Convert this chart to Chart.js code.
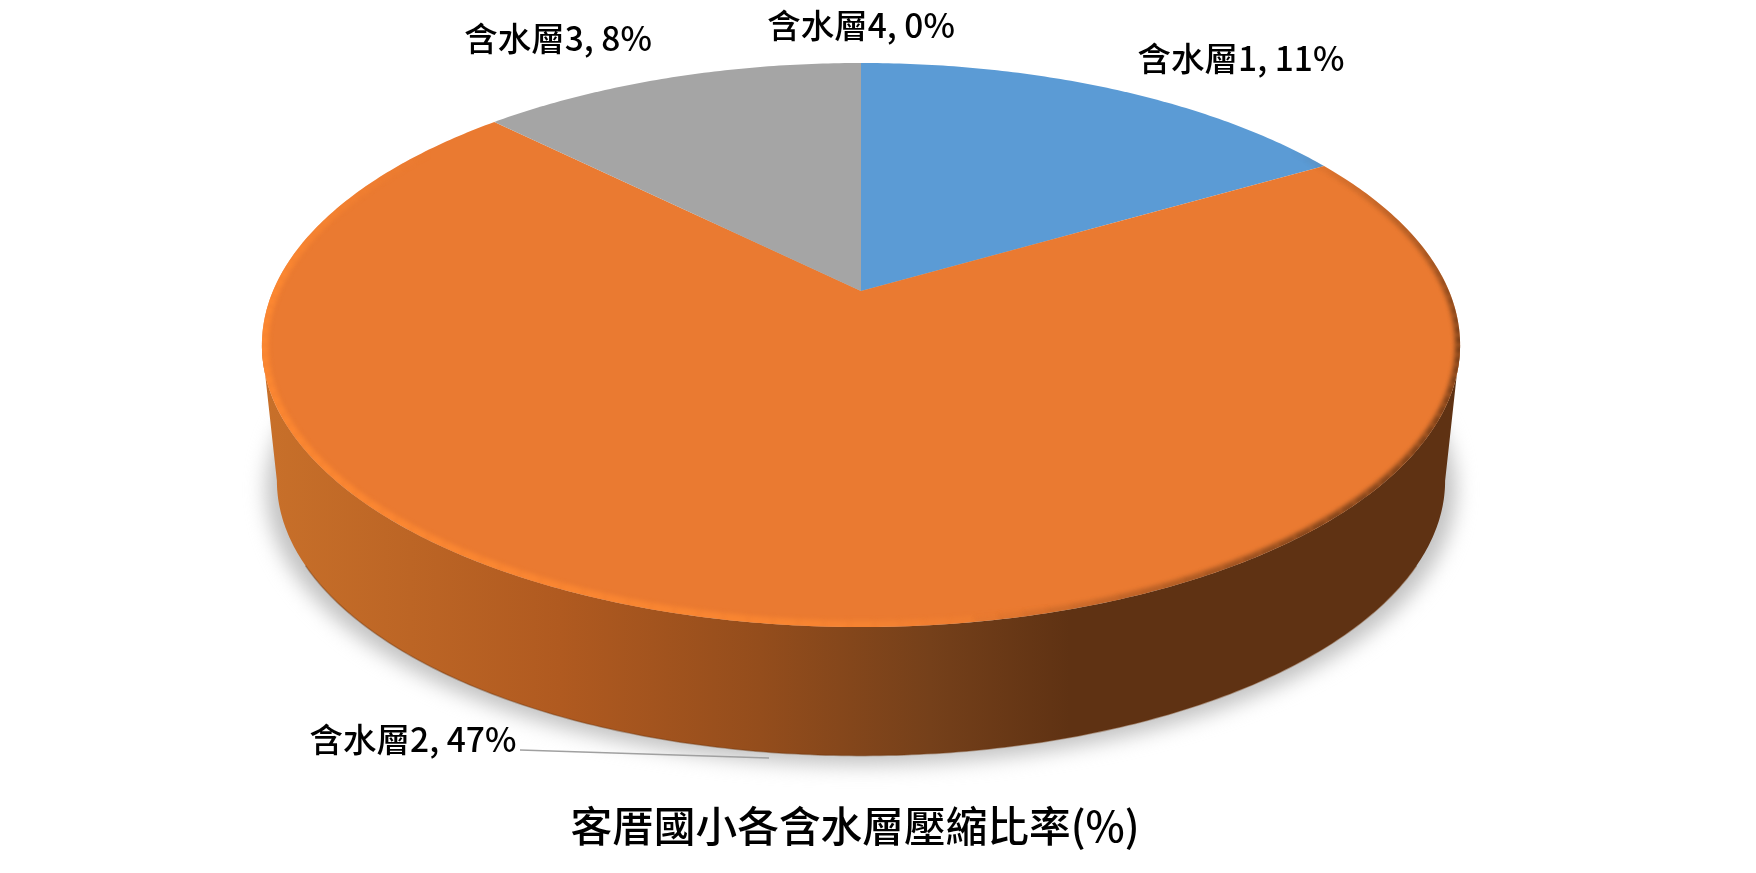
<!DOCTYPE html>
<html>
<head>
<meta charset="utf-8">
<title>客厝國小各含水層壓縮比率(%)</title>
<script src="https://cdn.jsdelivr.net/npm/chart.js@4"></script>
<style>
  html, body { margin: 0; padding: 0; background: #fff; }
  canvas { display: block; }
</style>
</head>
<body>
<canvas id="myChart" width="1756" height="873"></canvas>
<script>
const categories = ["含水層1", "含水層2", "含水層3", "含水層4"];
const seriesValues = [11, 47, 8.3, 0];
const sliceColors = ["#5B9BD5", "#EA7A31", "#A5A5A5", "#FFC000"];
const chartTitle = "客厝國小各含水層壓縮比率(%)";

// where each data label sits (center x, center y)
const labelSpots = [[1241, 58], [413, 739], [558, 38], [861, 25]];
const leaderLine = [[520, 750], [769, 758]];

const labelFont = '500 33.5px "Noto Sans CJK TC"';

// perspective of the disc: unit circle -> screen
const view = { cx: 861, cy: 291, a: 588, b: 271.7, k: -0.1915 };
const wall = { scale: 0.975, drop: 137 };

// rim shading, angle in degrees -> alpha
const rimLight = [[75, 0], [95, 0.7], [180, 0.9], [215, 0]];
const rimDark = [[-35, 0], [10, 0.8], [50, 0.7], [82, 0]];

function topPoint(t) {
  const u = Math.cos(t), v = Math.sin(t), d = 1 + view.k * v;
  return [view.cx + view.a * u / d, view.cy + view.b * v / d];
}

function bottomPoint(t) {
  const p = topPoint(t);
  return [view.cx + (p[0] - view.cx) * wall.scale, view.cy + (p[1] - view.cy) * wall.scale + wall.drop];
}

function arcSteps(from, to) {
  const n = Math.max(2, Math.ceil(Math.abs(to - from) * 90));
  const out = [];
  for (let i = 0; i <= n; i++) out.push(from + (to - from) * i / n);
  return out;
}

function tracePoints(ctx, pts, close) {
  ctx.beginPath();
  pts.forEach((p, i) => i ? ctx.lineTo(p[0], p[1]) : ctx.moveTo(p[0], p[1]));
  if (close) ctx.closePath();
}

function alphaAt(stops, deg) {
  for (let i = 1; i < stops.length; i++) {
    if (deg <= stops[i][0]) {
      const f = (deg - stops[i - 1][0]) / (stops[i][0] - stops[i - 1][0]);
      return stops[i - 1][1] + (stops[i][1] - stops[i - 1][1]) * f;
    }
  }
  return 0;
}

function strokeRim(ctx, stops, rgb, width) {
  const first = stops[0][0], last = stops[stops.length - 1][0];
  for (let deg = first; deg < last; deg += 2) {
    const a = alphaAt(stops, deg + 1);
    const from = deg * Math.PI / 180, to = (deg + 2) * Math.PI / 180;
    tracePoints(ctx, arcSteps(from, to).map(topPoint), false);
    ctx.strokeStyle = "rgba(" + rgb + "," + a + ")";
    ctx.lineWidth = width;
    ctx.stroke();
  }
}

const pie3d = {
  id: "pie3d",
  beforeDatasetsDraw(chart) {
    const ctx = chart.ctx;
    const edgeA = Math.asin(-view.k), edgeB = Math.PI - edgeA;
    const front = arcSteps(edgeA, edgeB);

    // soft shadow below the disc
    ctx.save();
    ctx.filter = "blur(10px)";
    ctx.fillStyle = "#c2c2c2";
    const full = arcSteps(0, Math.PI * 2).map(bottomPoint).map(p => [view.cx + (p[0] - view.cx) * 1.018, p[1] + 9]);
    tracePoints(ctx, full, true);
    ctx.fill();
    ctx.restore();

    // side wall
    const side = ctx.createLinearGradient(262, 0, 1460, 0);
    [[262, "#C8702A"], [560, "#B05A20"], [760, "#944D1C"], [930, "#75401A"], [1070, "#5F3213"], [1460, "#5F3213"]]
      .forEach(s => side.addColorStop((s[0] - 262) / (1460 - 262), s[1]));
    const wallPts = front.map(topPoint).concat(front.slice().reverse().map(bottomPoint));
    tracePoints(ctx, wallPts, true);
    ctx.fillStyle = side;
    ctx.fill();

    // slightly darker lower edge
    ctx.save();
    tracePoints(ctx, arcSteps(edgeA + 0.3, edgeB - 0.3).map(bottomPoint), false);
    ctx.strokeStyle = "rgba(110,55,15,0.4)";
    ctx.lineWidth = 1.5;
    ctx.stroke();
    ctx.restore();

    // top faces, angles come from the pie controller
    const arcs = chart.getDatasetMeta(0).data;
    arcs.forEach((arc, i) => {
      const { startAngle, endAngle } = arc.getProps(["startAngle", "endAngle"], true);
      if (endAngle - startAngle <= 0) return;
      const pts = [[view.cx, view.cy]].concat(arcSteps(startAngle, endAngle).map(topPoint));
      tracePoints(ctx, pts, true);
      ctx.fillStyle = sliceColors[i];
      ctx.fill();
    });

    // bevel along the rim
    ctx.save();
    tracePoints(ctx, arcSteps(0, Math.PI * 2).map(topPoint), true);
    ctx.clip();
    ctx.filter = "blur(2px)";
    strokeRim(ctx, rimLight, "255,138,50", 13);
    strokeRim(ctx, rimDark, "95,50,19", 10);
    ctx.restore();

    return false;
  },
  afterDraw(chart) {
    const ctx = chart.ctx;
    ctx.save();
    tracePoints(ctx, leaderLine, false);
    ctx.strokeStyle = "#A0A0A0";
    ctx.lineWidth = 1.6;
    ctx.stroke();
    ctx.fillStyle = "#000";
    ctx.font = labelFont;
    ctx.textAlign = "center";
    ctx.textBaseline = "middle";
    categories.forEach((name, i) => {
      ctx.fillText(name + ", " + Math.round(seriesValues[i]) + "%", labelSpots[i][0], labelSpots[i][1]);
    });
    ctx.restore();
  }
};

new Chart(document.getElementById("myChart").getContext("2d"), {
  type: "pie",
  data: {
    labels: categories,
    datasets: [{ data: seriesValues, backgroundColor: sliceColors, borderWidth: 0 }]
  },
  options: {
    responsive: false,
    animation: false,
    layout: { padding: { right: 46, bottom: 22 } },
    plugins: {
      legend: { display: false },
      tooltip: { enabled: false },
      title: {
        display: true,
        position: "bottom",
        text: chartTitle,
        color: "#000",
        font: { family: '"Noto Sans CJK TC"', size: 41.7, weight: "500" },
        padding: 0
      }
    }
  },
  plugins: [pie3d]
});
</script>
</body>
</html>
